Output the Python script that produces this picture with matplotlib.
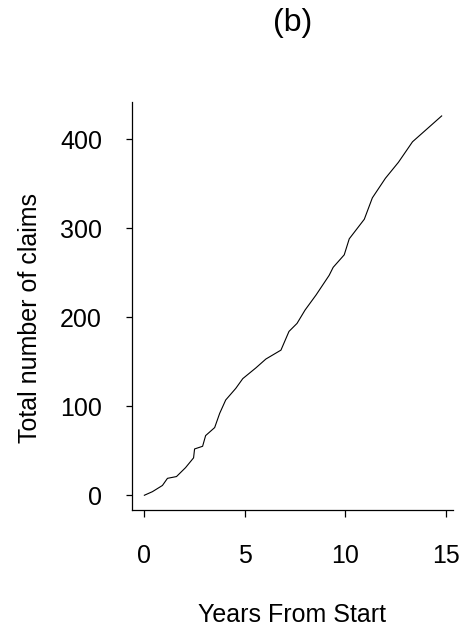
import matplotlib
matplotlib.use("Agg")
import matplotlib.pyplot as plt

plt.rcParams['font.family'] = ['Liberation Sans', 'DejaVu Sans']

years = [0.0, 0.4, 0.9, 1.15, 1.6, 2.05, 2.45, 2.5, 2.9, 3.05, 3.5, 3.75, 4.05,
         4.55, 4.9, 5.55, 6.05, 6.8, 7.2, 7.6, 8.0, 8.55, 9.2, 9.4, 9.95, 10.2,
         10.95, 11.35, 12.0, 12.65, 13.35, 14.0, 14.8]
claims = [0, 4, 11, 19, 21, 31, 42, 52, 55, 67, 76, 92, 107,
          120, 131, 143, 153, 163, 184, 193, 208, 225, 247, 256, 270, 288,
          310, 334, 356, 374, 397, 410, 426]
xticks = [0, 5, 10, 15]
yticks = [0, 100, 200, 300, 400]

W, H = 464, 629
fig = plt.figure(figsize=(W / 100, H / 100), dpi=100)
ax_bottom_px, ax_top_px = 509.5, 101.7
ax = fig.add_axes([131.7 / W, 1 - ax_bottom_px / H, 321.6 / W, (ax_bottom_px - ax_top_px) / H])

ax.plot(years, claims, color='black', lw=0.8)

ax.set_xlim(-0.63, 15.38)
ax.set_ylim(-16, 442)
ax.set_xticks(xticks)
ax.set_yticks(yticks)
ax.spines['top'].set_visible(False)
ax.spines['right'].set_visible(False)
for s in ('left', 'bottom'):
    ax.spines[s].set_linewidth(0.9)
ax.tick_params(axis='x', length=5, width=0.9, pad=20, labelsize=18)
ax.tick_params(axis='y', length=4.3, width=0.9, pad=17, labelsize=18)

hpx = ax_bottom_px - ax_top_px
ax.set_xlabel('Years From Start', fontsize=18, va='center')
ax.xaxis.set_label_coords(0.5, (ax_bottom_px - 615) / hpx)
ax.set_ylabel('Total number of claims', fontsize=18, va='center')
ax.yaxis.set_label_coords((30 - 131.7) / 321.6, (ax_bottom_px - 318) / hpx)

fig.text(292.5 / W, 1 - 23 / H, '(b)', ha='center', va='center', fontsize=23)

fig.savefig('out.png', dpi=100)
